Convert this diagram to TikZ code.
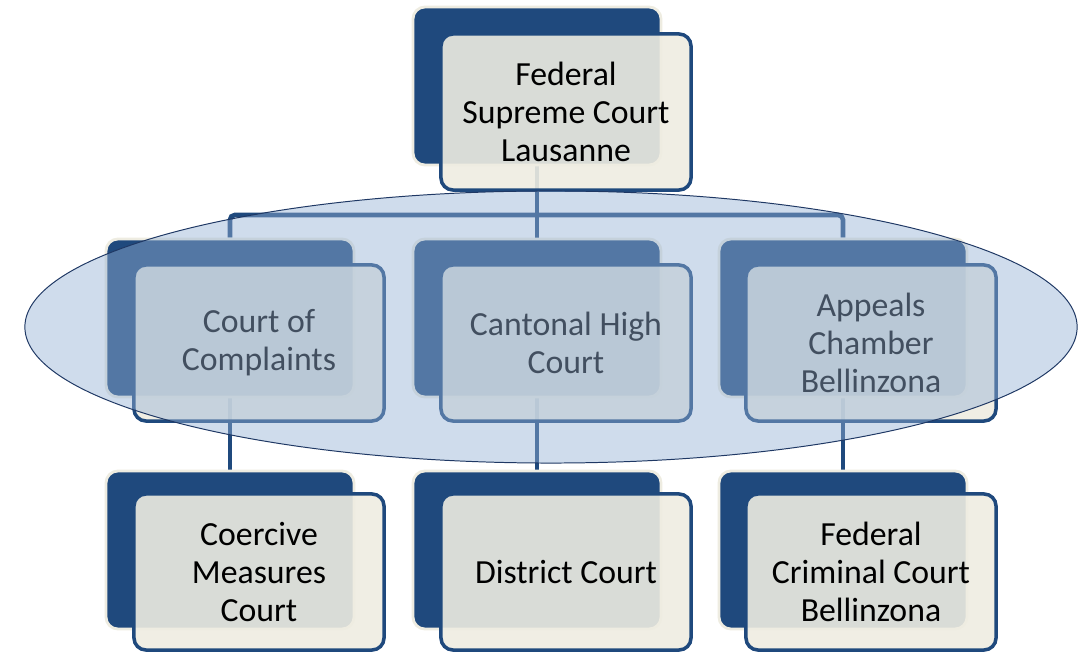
\documentclass[tikz,border=0pt]{standalone}
\usepackage{fontspec}
\setmainfont{Carlito}
\usetikzlibrary{shapes.geometric}
\usetikzlibrary{backgrounds}
\definecolor{courtBlue}{HTML}{1F497D}
\definecolor{courtCream}{HTML}{EEECE1}
\definecolor{tierBlue}{HTML}{94B1D5}
\definecolor{tierLine}{HTML}{1F3864}
\tikzset{
  backbox/.style={draw=courtCream, line width=2pt, fill=courtBlue,
    rounded corners=0.3cm, minimum width=6.2cm, minimum height=3.95cm},
  frontbox/.style={draw=courtBlue, line width=2.5pt, fill=courtCream,
    fill opacity=0.9, text opacity=1, rounded corners=0.3cm,
    minimum width=6.25cm, minimum height=3.9cm, align=center,
    font=\fontsize{24}{27}\selectfont},
  link/.style={courtBlue, line width=3.3pt, rounded corners=0.12cm},
  tier/.style={ellipse, draw=tierLine, line width=0.7pt, fill=tierBlue,
    fill opacity=0.45, minimum width=26.3cm, minimum height=6.8cm}
}

\begin{document}
\begin{tikzpicture}[x=0.025cm, y=-0.025cm]
    \useasboundingbox (0,0) rectangle (1086,655);

    \coordinate (bus) at (537,215);

    % back boxes
    \node[backbox] (fedB)  at (537,86)  {};
    \node[backbox] (compB) at (230,318) {};
    \node[backbox] (highB) at (537,318) {};
    \node[backbox] (appB)  at (843,318) {};
    \node[backbox] (coerB) at (230,550) {};
    \node[backbox] (distB) at (537,550) {};
    \node[backbox] (crimB) at (843,550) {};

    % front boxes
    \node[frontbox] (fed)  at (566,112) {Federal\\Supreme Court\\Lausanne};
    \node[frontbox] (comp) at (259,343) {Court of\\Complaints};
    \node[frontbox] (high) at (566,343) {Cantonal High\\Court};
    \node[frontbox] (app)  at (871,343) {Appeals\\Chamber\\Bellinzona};
    \node[frontbox] (coer) at (259,572) {Coercive\\Measures\\Court};
    \node[frontbox] (dist) at (566,572) {District Court};
    \node[frontbox] (crim) at (871,572) {Federal\\Criminal Court\\Bellinzona};

    % connectors, behind the boxes
    \begin{scope}[on background layer]
      \draw[link] (fedB.center) -- (bus);
      \draw[link] (compB.north) |- (bus) -| (appB.north);
      \draw[link] (bus) -- (highB.north);
      \draw[link] (compB.south) -- (coerB.north);
      \draw[link] (highB.south) -- (distB.north);
      \draw[link] (appB.south) -- (crimB.north);
    \end{scope}

    \node[tier] (cantonal) at (551,327) {};
\end{tikzpicture}
\end{document}
